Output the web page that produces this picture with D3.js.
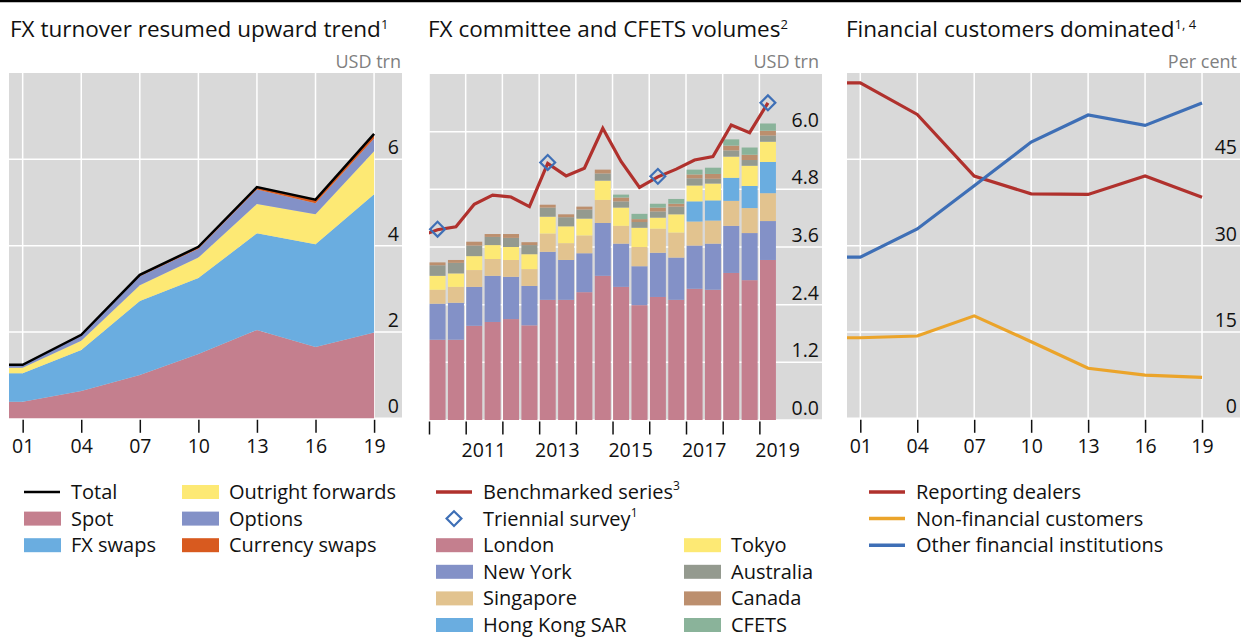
<!DOCTYPE html>
<html>
<head>
<meta charset="utf-8">
<script src="https://cdn.jsdelivr.net/npm/d3@7"></script>
<style>
  body { margin: 0; background: #fff; }
  svg { display: block; font-family: "Open Sans", sans-serif; }
</style>
</head>
<body>
<svg id="chart" width="1241" height="639"></svg>
<script>
// ---- panel 1: FX turnover by instrument (USD trn) ----
var years1 = [2001, 2004, 2007, 2010, 2013, 2016, 2019];
var spot = [0.386, 0.631, 1.005, 1.489, 2.047, 1.652, 1.987];
var fxSwaps = [0.656, 0.954, 1.714, 1.759, 2.240, 2.378, 3.202];
var outrightForwards = [0.130, 0.209, 0.362, 0.475, 0.679, 0.700, 0.999];
var options = [0.060, 0.119, 0.212, 0.207, 0.337, 0.254, 0.294];
var currencySwaps = [0.007, 0.021, 0.031, 0.043, 0.054, 0.082, 0.108];
var ticks1 = [0, 2, 4, 6];
var xLabels1 = ["01", "04", "07", "10", "13", "16", "19"];

// ---- panel 2: FX committee and CFETS volumes (USD trn) ----
var months2 = ["2010-04", "2010-10", "2011-04", "2011-10", "2012-04", "2012-10", "2013-04",
               "2013-10", "2014-04", "2014-10", "2015-04", "2015-10", "2016-04", "2016-10",
               "2017-04", "2017-10", "2018-04", "2018-10", "2019-04"];
var london    = [1.67, 1.67, 1.96, 2.04, 2.10, 1.97, 2.50, 2.50, 2.66, 3.00, 2.77, 2.39, 2.56, 2.50, 2.73, 2.71, 3.06, 2.91, 3.33];
var newYork   = [0.75, 0.77, 0.81, 0.96, 0.88, 0.82, 1.00, 0.83, 0.81, 1.10, 0.90, 0.81, 0.92, 0.88, 0.90, 0.96, 0.98, 0.98, 0.81];
var singapore = [0.29, 0.33, 0.35, 0.35, 0.35, 0.35, 0.38, 0.35, 0.37, 0.48, 0.37, 0.40, 0.50, 0.52, 0.50, 0.48, 0.52, 0.52, 0.58];
var hongKong  = [0, 0, 0, 0, 0, 0, 0, 0, 0, 0, 0, 0, 0, 0, 0.42, 0.42, 0.48, 0.46, 0.65];
var tokyo     = [0.29, 0.28, 0.29, 0.29, 0.27, 0.31, 0.35, 0.35, 0.35, 0.40, 0.38, 0.40, 0.23, 0.38, 0.33, 0.35, 0.44, 0.42, 0.42];
var australia = [0.22, 0.22, 0.22, 0.17, 0.19, 0.19, 0.19, 0.19, 0.19, 0.15, 0.13, 0.12, 0.13, 0.16, 0.15, 0.10, 0.13, 0.12, 0.13];
var canada    = [0.06, 0.06, 0.08, 0.06, 0.08, 0.06, 0.06, 0.06, 0.06, 0.08, 0.08, 0.06, 0.08, 0.06, 0.08, 0.10, 0.10, 0.11, 0.10];
var cfets     = [0, 0, 0, 0, 0, 0, 0, 0, 0, 0, 0.06, 0.11, 0.08, 0.10, 0.10, 0.13, 0.13, 0.15, 0.15];
var benchMonths = ["2009-10"].concat(months2);
var benchmarked = [3.82, 3.96, 4.02, 4.49, 4.68, 4.64, 4.44, 5.34, 5.08, 5.24, 6.07, 5.38, 4.84, 5.06,
                   5.22, 5.41, 5.48, 6.14, 5.98, 6.60];
var surveyMonths = ["2010-04", "2013-04", "2016-04", "2019-04"];
var surveyTotals = [3.97, 5.36, 5.07, 6.60];
var ticks2 = [0, 1.2, 2.4, 3.6, 4.8, 6.0];
var labelYears2 = [2011, 2013, 2015, 2017, 2019];

// ---- panel 3: counterparty shares (per cent) ----
var years3 = [2001, 2004, 2007, 2010, 2013, 2016, 2019];
var reportingDealers = [58.3, 52.8, 42.1, 39.0, 38.9, 42.1, 38.4];
var nonFinancial = [14.0, 14.3, 17.8, 13.3, 8.7, 7.5, 7.1];
var otherFinancial = [28.0, 32.9, 40.4, 48.0, 52.7, 50.9, 54.8];
var ticks3 = [0, 15, 30, 45];

var C = {
    pink: "#c47f8e", purple: "#8391c7", blue: "#6aade0", yellow: "#fde974",
    orangeRed: "#d85a1f", tan: "#e2c38f", grey: "#949a8f", brown: "#bc8f6e",
    green: "#8ab39a", red: "#b0312d", orange: "#eba42a", lineBlue: "#3e6fb6",
    bg: "#d9d9d9"
};

var svg = d3.select("#chart");

    // thin rule across the top
svg.append("line").attr("x1", 0).attr("x2", 1241).attr("y1", 1).attr("y2", 1)
    .attr("stroke", "#000").attr("stroke-width", 2.5);

    // title with superscript note
function title(x, text, sup) {
    var t = svg.append("text").attr("x", x).attr("y", 37)
        .style("font-size", "22.5px").style("fill", "#111").text(text);
    t.append("tspan").attr("dy", -8).style("font-size", "13px").text(sup);
}

function unitLabel(x, text) {
    svg.append("text").attr("x", x).attr("y", 68).attr("text-anchor", "end")
        .style("font-size", "18px").style("fill", "#808080").text(text);
}

    // grey frame and horizontal grid
function frame(p, y, ticks) {
    var g = svg.append("g");
    g.append("rect").attr("x", p.left).attr("y", p.top)
        .attr("width", p.right - p.left).attr("height", p.bottom - p.top).attr("fill", C.bg);
    g.selectAll("line.h").data(ticks).enter().append("line")
        .attr("x1", p.left).attr("x2", p.right)
        .attr("y1", function (d) { return y(d); }).attr("y2", function (d) { return y(d); })
        .attr("stroke", "#fff").attr("stroke-width", 1.5);
    return g;
}

    // right-hand labels sitting just above their gridlines
function yLabels(p, y, ticks, fmt) {
    svg.append("g").selectAll("text").data(ticks).enter().append("text")
        .attr("x", p.right - 3).attr("y", function (d) { return y(d) - 5; })
        .attr("text-anchor", "end").style("font-size", "19.5px").style("fill", "#111")
        .text(fmt);
}

function xAxis(p, x, values, fmt) {
    var axis = d3.axisBottom(x).tickValues(values).tickSize(13).tickPadding(6).tickFormat(fmt);
    var g = svg.append("g").attr("transform", "translate(0," + (p.bottom + 1.5) + ")").call(axis);
    g.select(".domain").remove();
    g.selectAll("line").attr("stroke", "#111").attr("stroke-width", 1.5);
    g.selectAll("text").style("font-size", "19.5px").style("fill", "#111").style("font-family", "Open Sans");
    return g;
}

function vGrid(g, p, x, values) {
    g.selectAll("line.v").data(values).enter().append("line")
        .attr("x1", function (d) { return x(d); }).attr("x2", function (d) { return x(d); })
        .attr("y1", p.top).attr("y2", p.bottom)
        .attr("stroke", "#fff").attr("stroke-width", 1.5);
}

// ================= panel 1 =================
var p1 = { left: 9, right: 402, top: 73, bottom: 418.3 };
var x1 = d3.scaleLinear().domain([2000.3, 2020.43]).range([p1.left, p1.right]);
var y1 = d3.scaleLinear().domain([0, 8]).range([p1.bottom, p1.top]);

title(10, "FX turnover resumed upward trend", "1");
unitLabel(401, "USD trn");
var g1 = frame(p1, y1, ticks1);
vGrid(g1, p1, x1, years1);

var rows1 = years1.map(function (yr, i) {
    return { year: yr, spot: spot[i], fxSwaps: fxSwaps[i], outrightForwards: outrightForwards[i],
             options: options[i], currencySwaps: currencySwaps[i] };
});
    // series start at the left edge of the panel with the first survey value
rows1.unshift(Object.assign({}, rows1[0], { year: x1.domain()[0] }));

var keys1 = ["spot", "fxSwaps", "outrightForwards", "options", "currencySwaps"];
var colors1 = [C.pink, C.blue, C.yellow, C.purple, C.orangeRed];
var stacked1 = d3.stack().keys(keys1)(rows1);
var area1 = d3.area()
    .x(function (d) { return x1(d.data.year); })
    .y0(function (d) { return y1(d[0]); })
    .y1(function (d) { return y1(d[1]); });
g1.selectAll("path.area").data(stacked1).enter().append("path")
    .attr("d", area1).attr("fill", function (d, i) { return colors1[i]; });

var totalLine = d3.line()
    .x(function (d) { return x1(d.year); })
    .y(function (d) { return y1(d.spot + d.fxSwaps + d.outrightForwards + d.options + d.currencySwaps); });
g1.append("path").datum(rows1).attr("d", totalLine)
    .attr("fill", "none").attr("stroke", "#000").attr("stroke-width", 2.5);

yLabels(p1, y1, ticks1, function (d) { return d; });
xAxis(p1, x1, years1, function (d, i) { return xLabels1[i]; });

// ================= panel 2 =================
var p2 = { left: 429, right: 822, top: 74, bottom: 420 };
var parseMonth = d3.timeParse("%Y-%m");
var x2 = d3.scaleTime()
    .domain([new Date(2010, 0, 1), new Date(2020, 8, 15)])
    .range([p2.left, p2.right]);
var y2 = d3.scaleLinear().domain([0, 7.2]).range([p2.bottom, p2.top]);

title(428, "FX committee and CFETS volumes", "2");
unitLabel(819, "USD trn");
var g2 = frame(p2, y2, ticks2);
var yearStarts = d3.range(2010, 2020).map(function (yr) { return new Date(yr, 0, 1); });
vGrid(g2, p2, x2, yearStarts);

var rows2 = months2.map(function (m, i) {
    return { date: parseMonth(m), london: london[i], newYork: newYork[i], singapore: singapore[i],
             hongKong: hongKong[i], tokyo: tokyo[i], australia: australia[i], canada: canada[i],
             cfets: cfets[i] };
});
var keys2 = ["london", "newYork", "singapore", "hongKong", "tokyo", "australia", "canada", "cfets"];
var colors2 = [C.pink, C.purple, C.tan, C.blue, C.yellow, C.grey, C.brown, C.green];
var stacked2 = d3.stack().keys(keys2)(rows2);
var barW = 16;
g2.selectAll("g.series").data(stacked2).enter().append("g")
    .attr("fill", function (d, i) { return colors2[i]; })
    .selectAll("rect").data(function (d) { return d; }).enter().append("rect")
    .attr("x", function (d) { return x2(d.data.date) - barW / 2 - 0.5; })
    .attr("width", barW)
    .attr("y", function (d) { return y2(d[1]); })
    .attr("height", function (d) { return y2(d[0]) - y2(d[1]); });

svg.append("clipPath").attr("id", "clip2").append("rect")
    .attr("x", p2.left).attr("y", p2.top).attr("width", p2.right - p2.left).attr("height", p2.bottom - p2.top);

var bench = benchMonths.map(function (m, i) { return { date: parseMonth(m), v: benchmarked[i] }; });
var benchLine = d3.line()
    .x(function (d) { return x2(d.date) - 0.5; })
    .y(function (d) { return y2(d.v); });
g2.append("path").datum(bench).attr("d", benchLine).attr("clip-path", "url(#clip2)")
    .attr("fill", "none").attr("stroke", C.red).attr("stroke-width", 3.2).attr("stroke-linejoin", "miter");

var diamond = d3.symbol().type(d3.symbolSquare).size(110);
g2.selectAll("path.survey").data(surveyMonths).enter().append("path")
    .attr("d", diamond)
    .attr("transform", function (d, i) {
        return "translate(" + (x2(parseMonth(d)) - 0.5) + "," + y2(surveyTotals[i]) + ") rotate(45)";
    })
    .attr("fill", "none").attr("stroke", C.lineBlue).attr("stroke-width", 2.2);

yLabels(p2, y2, ticks2, d3.format(".1f"));
xAxis(p2, x2, yearStarts, function () { return ""; });
svg.append("g").selectAll("text").data(labelYears2).enter().append("text")
    .attr("x", function (d) { return x2(new Date(d, 6, 1)); })
    .attr("y", 456.5).attr("text-anchor", "middle")
    .style("font-size", "19.5px").style("fill", "#111")
    .text(function (d) { return d; });

// ================= panel 3 =================
var p3 = { left: 847, right: 1240, top: 73, bottom: 418.3 };
var x3 = d3.scaleLinear().domain([2000.3, 2021.0]).range([p3.left, p3.right]);
var y3 = d3.scaleLinear().domain([0, 60]).range([p3.bottom, p3.top]);

title(846, "Financial customers dominated", "1, 4");
unitLabel(1237, "Per cent");
var g3 = frame(p3, y3, ticks3);
vGrid(g3, p3, x3, years3);

var series3 = [
    { values: reportingDealers, color: C.red },
    { values: nonFinancial, color: C.orange },
    { values: otherFinancial, color: C.lineBlue }
];
var line3 = d3.line()
    .x(function (d) { return x3(d[0]); })
    .y(function (d) { return y3(d[1]); });
g3.selectAll("path.line").data(series3).enter().append("path")
    .attr("d", function (s) {
        var pts = years3.map(function (yr, i) { return [yr, s.values[i]]; });
        pts.unshift([x3.domain()[0], s.values[0]]);
        return line3(pts);
    })
    .attr("fill", "none").attr("stroke", function (s) { return s.color; }).attr("stroke-width", 3.2);

yLabels(p3, y3, ticks3, function (d) { return d; });
xAxis(p3, x3, years3, function (d, i) { return xLabels1[i]; });

// ================= legends =================
var rowY0 = 492, rowStep = 26.6;

function legendItem(x, row, kind, color, label, sup) {
    var cy = rowY0 + row * rowStep;
    var g = svg.append("g");
    if (kind === "rect") {
        g.append("rect").attr("x", x).attr("y", cy - 7).attr("width", 37).attr("height", 14).attr("fill", color);
    } else if (kind === "line") {
        g.append("line").attr("x1", x).attr("x2", x + 36).attr("y1", cy).attr("y2", cy)
            .attr("stroke", color).attr("stroke-width", color === "#000" ? 2.5 : 3.5);
    } else {
        g.append("path").attr("d", diamond).attr("transform", "translate(" + (x + 18) + "," + cy + ") rotate(45)")
            .attr("fill", "none").attr("stroke", color).attr("stroke-width", 2.2);
    }
    var t = g.append("text").attr("x", x + 47).attr("y", cy + 7)
        .style("font-size", "20px").style("fill", "#111").text(label);
    if (sup) t.append("tspan").attr("dy", -9).style("font-size", "12px").text(sup);
}

legendItem(24, 0, "line", "#000", "Total");
legendItem(24, 1, "rect", C.pink, "Spot");
legendItem(24, 2, "rect", C.blue, "FX swaps");
legendItem(182, 0, "rect", C.yellow, "Outright forwards");
legendItem(182, 1, "rect", C.purple, "Options");
legendItem(182, 2, "rect", C.orangeRed, "Currency swaps");

legendItem(436, 0, "line", C.red, "Benchmarked series", "3");
legendItem(436, 1, "diamond", C.lineBlue, "Triennial survey", "1");
legendItem(436, 2, "rect", C.pink, "London");
legendItem(436, 3, "rect", C.purple, "New York");
legendItem(436, 4, "rect", C.tan, "Singapore");
legendItem(436, 5, "rect", C.blue, "Hong Kong SAR");
legendItem(684, 2, "rect", C.yellow, "Tokyo");
legendItem(684, 3, "rect", C.grey, "Australia");
legendItem(684, 4, "rect", C.brown, "Canada");
legendItem(684, 5, "rect", C.green, "CFETS");

legendItem(869, 0, "line", C.red, "Reporting dealers");
legendItem(869, 1, "line", C.orange, "Non-financial customers");
legendItem(869, 2, "line", C.lineBlue, "Other financial institutions");
</script>
</body>
</html>
